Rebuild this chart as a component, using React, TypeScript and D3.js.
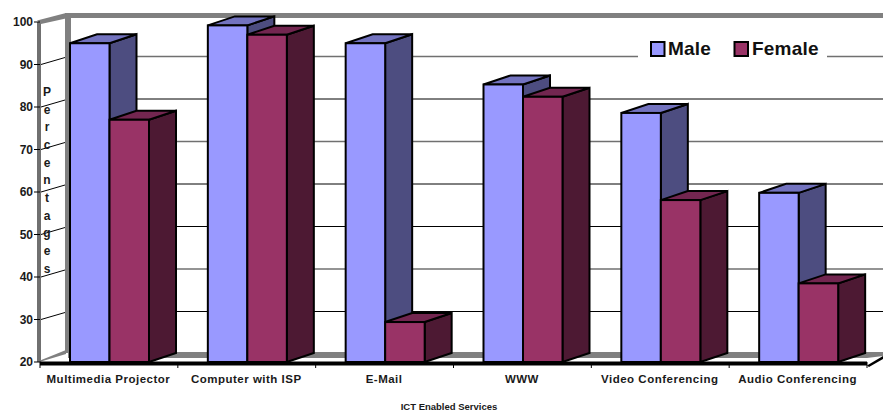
import React from "react";
import * as d3 from "d3";

const categories = ["Multimedia Projector", "Computer with ISP", "E-Mail", "WWW", "Video Conferencing", "Audio Conferencing"];
const maleValues = [95, 99.2, 95, 85.3, 78.6, 59.8];
const femaleValues = [77, 97, 29.4, 82.4, 58.1, 38.5];
const yTicks = [20, 30, 40, 50, 60, 70, 80, 90, 100];
const heavyGridValues = [90, 70, 40];
const seriesNames = ["Male", "Female"];
const yTitle = "Percentages";
const xTitle = "ICT Enabled Services";

const W = 883;
const H = 410;
const FONT = "'Liberation Sans', Arial, sans-serif";
const DX = 27;
const DY = -9;
const WALL_DX = 28;
const WALL_DY = -8;
const WALL_GRAY = "#808080";

const x = d3.scaleBand<string>().domain(categories).range([40, 867]);
const inner = d3.scaleBand<string>().domain(seriesNames).range([30, 109]);
const y = d3.scaleLinear().domain([20, 100]).range([362, 22]);

const palette: Record<string, { front: string; side: string; top: string }> = {
  Male: { front: "#9999FF", side: "#4D4D80", top: "#7373BF" },
  Female: { front: "#993366", side: "#4D1933", top: "#732650" },
};

const path = (pts: [number, number][]) => d3.line()(pts) + "Z";

function Bar({ category, series, value }: { category: string; series: string; value: number }) {
  const x0 = (x(category) as number) + (inner(series) as number);
  const x1 = x0 + inner.bandwidth();
  const yt = y(value);
  const yb = y(20);
  const c = palette[series];
  return (
    <g stroke="#000" strokeWidth={2} strokeLinejoin="miter">
      <path d={path([[x1, yb], [x1 + DX, yb + DY], [x1 + DX, yt + DY], [x1, yt]])} fill={c.side} />
      <path d={path([[x0, yt], [x0 + DX, yt + DY], [x1 + DX, yt + DY], [x1, yt]])} fill={c.top} />
      <rect x={x0} y={yt} width={x1 - x0} height={yb - yt} fill={c.front} />
    </g>
  );
}

export default function App() {
  const left = 40;
  const right = 867;
  const base = y(20);
  const top = y(100);
  const backX = left + WALL_DX;
  const tickEdges = [...categories.map((c) => x(c) as number), right];

  return (
    <svg
      width={W}
      height={H}
      viewBox={`0 0 ${W} ${H}`}
      style={{ position: "absolute", left: 0, top: 0, background: "#fff", fontFamily: FONT }}
    >
      {/* side wall: front edge, slanted top, slanted bottom, rear edge */}
      <rect x={left - 3} y={top} width={4} height={base - top} fill="#707070" />
      <path d={path([[left - 3, top - 1.5], [backX - 2, top + WALL_DY - 1], [backX, top + WALL_DY + 4], [left + 1, top + 2]])} fill={WALL_GRAY} />
      <path d={path([[left, base - 1.5], [backX - 2, base + WALL_DY - 4], [backX - 2, base + WALL_DY], [left + 1, base - 0.5]])} fill={WALL_GRAY} />
      <rect x={backX - 3} y={top + WALL_DY - 1} width={6} height={base - top} fill={WALL_GRAY} />

      {/* back wall: top band and floor band */}
      <rect x={backX - 2} y={top + WALL_DY - 1} width={W - backX + 2} height={5} fill={WALL_GRAY} />
      <path d={path([[backX, base + WALL_DY - 2], [W, base + WALL_DY - 2], [W, base + WALL_DY + 2], [right, base + WALL_DY + 4], [backX, base + WALL_DY + 4]])} fill={WALL_GRAY} />

      {/* gridlines across the side wall and the back wall */}
      {yTicks.filter((t) => t > 20 && t < 100).map((t) => {
        const heavy = heavyGridValues.includes(t);
        return (
          <g key={t}>
            <line x1={left + 1} x2={backX - 3} y1={y(t)} y2={y(t) + WALL_DY + 1} stroke="#000" strokeWidth={1} />
            <line
              x1={backX + 3}
              x2={W}
              y1={y(t) + WALL_DY}
              y2={y(t) + WALL_DY}
              stroke={heavy ? "#707070" : "#000"}
              strokeWidth={heavy ? 1.6 : 1}
            />
          </g>
        );
      })}

      {/* front edge of the floor */}
      <rect x={left} y={base - 0.5} width={right - left} height={4} fill="#000" />
      <path d={path([[right, base + 3.5], [W, base - 6], [W, base - 3], [right + 2, base + 5]])} fill="#000" />

      {/* bars, drawn left to right so nearer faces overlap */}
      {categories.map((c, i) => (
        <g key={c}>
          <Bar category={c} series="Male" value={maleValues[i]} />
          <Bar category={c} series="Female" value={femaleValues[i]} />
        </g>
      ))}

      {/* value axis */}
      {yTicks.map((t) => (
        <g key={t}>
          <line x1={left - 6} x2={left} y1={y(t)} y2={y(t)} stroke="#000" strokeWidth={1} />
          <text x={33} y={y(t)} dy="0.36em" textAnchor="end" fontSize={12} fontWeight={700} fill="#1a1a1a">
            {t}
          </text>
        </g>
      ))}

      {/* category axis */}
      {tickEdges.map((e) => (
        <line key={e} x1={e} x2={e} y1={base} y2={base + 6} stroke="#000" strokeWidth={1} />
      ))}
      {categories.map((c) => (
        <text
          key={c}
          x={(x(c) as number) + x.bandwidth() / 2 - 0.5}
          y={383}
          textAnchor="middle"
          fontSize={11.5}
          fontWeight={700}
          letterSpacing={0.5}
          fill="#1a1a1a"
        >
          {c}
        </text>
      ))}

      {/* stacked axis titles */}
      {yTitle.split("").map((ch, i) => (
        <text
          key={i}
          x={47}
          y={96 + i * 17.67}
          textAnchor="middle"
          fontSize={12}
          fontWeight={700}
          fill="#1a1a1a"
        >
          {ch}
        </text>
      ))}
      <text x={449} y={409.5} textAnchor="middle" fontSize={9.5} fontWeight={700} fill="#1a1a1a">
        {xTitle}
      </text>

      {/* legend */}
      <rect x={638} y={30} width={189} height={40} fill="#fff" />
      <rect x={651} y={42} width={13.5} height={14} fill={palette.Male.front} stroke="#000" strokeWidth={2} />
      <text x={668} y={55} fontSize={19} fontWeight={700} letterSpacing={0.2} fill="#111">
        {seriesNames[0]}
      </text>
      <rect x={734.5} y={42} width={13.5} height={14} fill={palette.Female.front} stroke="#000" strokeWidth={2} />
      <text x={752} y={55} fontSize={19} fontWeight={700} letterSpacing={0.2} fill="#111">
        {seriesNames[1]}
      </text>
    </svg>
  );
}
